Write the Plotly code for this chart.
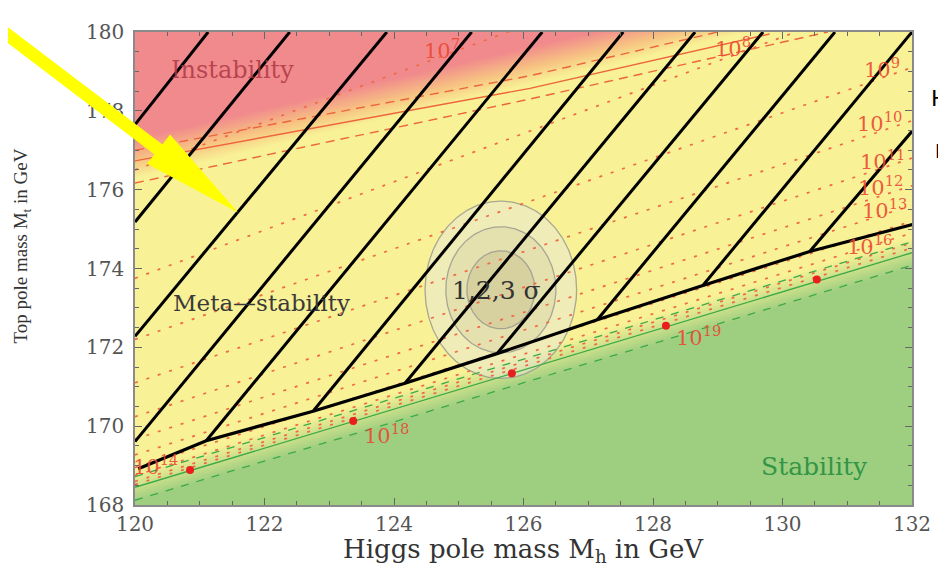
import numpy as np
import plotly.graph_objects as go

# ---------------- data ----------------
x_ticks = [120, 122, 124, 126, 128, 130, 132]
y_ticks = [168, 170, 172, 174, 176, 178, 180]

# instability boundary (orange lines)
inst_solid_h = [120.0, 126.1, 129.8]
inst_solid_t = [176.73, 178.57, 179.95]
inst_dash_up_h = [120.0, 126.1, 129.0]
inst_dash_up_t = [177.0, 178.89, 180.0]
inst_dash_lo_h = [120.0, 126.1, 130.7]
inst_dash_lo_t = [176.17, 178.30, 180.0]

# colour-grading edges of the instability band
red_full_h = [120.0, 132.0]
red_full_t = [177.3, 181.9]
red_fade_h = [120.0, 132.0]
red_fade_t = [176.3, 181.0]

# stability boundary (green lines)
stab_h = [120.0, 132.0]
stab_t = [168.45, 174.40]
stab_dash_up_t = [168.72, 174.68]
stab_dash_lo_t = [168.12, 174.08]
green_full_t = [168.10, 174.02]
green_fade_t = [168.87, 174.80]

# instability-scale contours (dotted) 10^7 ... 10^17: Mt at Mh=120 and Mh=132
scale_left_t = [176.50, 173.75, 172.20, 171.10, 170.24, 169.67, 169.27, 168.95, 168.75, 168.60, 168.52]
scale_right_t = [183.80, 181.10, 179.10, 177.75, 176.80, 176.10, 175.60, 175.20, 174.90, 174.65, 174.52]

# scale labels
lab_text = ["10<sup>7</sup>", "10<sup>8</sup>", "10<sup>9</sup>", "10<sup>10</sup>", "10<sup>11</sup>",
            "10<sup>12</sup>", "10<sup>13</sup>", "10<sup>16</sup>", "10<sup>18</sup>", "10<sup>19</sup>",
            "10<sup>14</sup>"]
lab_h = [124.74, 129.24, 131.54, 131.50, 131.55, 131.52, 131.57, 131.34, 123.88, 128.71, 120.32]
lab_t = [179.58, 179.63, 179.08, 177.72, 176.76, 176.10, 175.52, 174.60, 169.80, 172.30, 169.02]

# hand-drawn black hatching lines (start, end)
hatch_h0 = [121.13, 122.39, 123.89, 125.20, 126.29, 127.54, 128.65, 129.70, 130.81, 132.00, 132.00]
hatch_t0 = [180.00, 180.00, 180.00, 180.00, 180.00, 180.00, 180.00, 180.00, 180.00, 180.00, 177.48]
hatch_h1 = [120.00, 120.00, 120.00, 120.00, 121.10, 122.75, 124.17, 125.59, 127.14, 128.77, 130.42]
hatch_t1 = [177.65, 175.18, 172.28, 169.61, 169.63, 170.38, 171.09, 171.84, 172.70, 173.57, 174.43]

# thick black boundary
bound_h = [120.05, 121.10, 122.75, 124.17, 125.59, 127.14, 128.77, 130.42, 132.09]
bound_t = [168.92, 169.63, 170.38, 171.09, 171.84, 172.70, 173.57, 174.43, 175.15]

# red dots
dot_h = [120.85, 123.37, 125.82, 128.20, 130.53]
dot_t = [168.89, 170.13, 171.34, 172.55, 173.72]

# experimental ellipses (3,2,1 sigma)
ell_center = (125.65, 173.46)
ell_semi_h = [1.17, 0.85, 0.525]
ell_semi_t = [2.25, 1.60, 0.99]

# ---------------- figure ----------------
OFF = 8                      # page body margin of the browser
PAGE_W, PAGE_H = 946, 574
L, R, T, B = 135, 34, 20, 69  # plot area position on the page
W, H = PAGE_W - OFF, PAGE_H - OFF
PW, PH = PAGE_W - L - R, PAGE_H - T - B

fig = go.Figure()

# background colour grading
gx = np.linspace(120, 132, 301)
gy = np.linspace(168, 180, 301)
X, Y = np.meshgrid(gx, gy)
rf = np.interp(X, red_full_h, red_full_t)
ry = np.interp(X, red_fade_h, red_fade_t)
r = np.clip((Y - ry) / (rf - ry), 0, 1)
gf = np.interp(X, stab_h, green_full_t)
gyl = np.interp(X, stab_h, green_fade_t)
g = np.clip((gyl - Y) / (gyl - gf), 0, 1)
Z = 0.5 + 0.5 * r - 0.5 * g
fig.add_trace(go.Heatmap(
    x=gx, y=gy, z=Z, zmin=0, zmax=1, showscale=False, hoverinfo="skip", zsmooth="best",
    colorscale=[[0, "rgb(158,206,128)"], [0.5, "rgb(248,241,150)"],
                [0.72, "rgb(247,196,130)"], [1, "rgb(241,138,140)"]]))

# ellipses
tt = np.linspace(0, 2 * np.pi, 200)
ell_fill = ["rgba(232,232,215,0.50)", "rgba(195,190,150,0.25)", "rgba(180,170,120,0.28)"]
for a, b, fc in zip(ell_semi_h, ell_semi_t, ell_fill):
    fig.add_trace(go.Scatter(x=ell_center[0] + a * np.cos(tt), y=ell_center[1] + b * np.sin(tt),
                             mode="lines", fill="toself", fillcolor=fc,
                             line=dict(color="rgba(150,150,140,0.8)", width=1.3),
                             hoverinfo="skip", showlegend=False))

# dotted instability-scale contours
for tl, tr in zip(scale_left_t, scale_right_t):
    fig.add_trace(go.Scatter(x=[120, 132], y=[tl, tr], mode="lines",
                             line=dict(color="rgb(240,105,70)", width=1.7, dash="3px,9px"),
                             hoverinfo="skip", showlegend=False))

# instability boundary lines
fig.add_trace(go.Scatter(x=inst_solid_h, y=inst_solid_t, mode="lines",
                         line=dict(color="rgb(238,100,60)", width=1.4), showlegend=False, hoverinfo="skip"))
for hh, tv in [(inst_dash_up_h, inst_dash_up_t), (inst_dash_lo_h, inst_dash_lo_t)]:
    fig.add_trace(go.Scatter(x=hh, y=tv, mode="lines",
                             line=dict(color="rgb(238,100,60)", width=1.4, dash="9px,6px"),
                             showlegend=False, hoverinfo="skip"))

# stability boundary lines
fig.add_trace(go.Scatter(x=stab_h, y=stab_t, mode="lines",
                         line=dict(color="rgb(60,170,70)", width=1.3), showlegend=False, hoverinfo="skip"))
for tv in [stab_dash_up_t, stab_dash_lo_t]:
    fig.add_trace(go.Scatter(x=stab_h, y=tv, mode="lines",
                             line=dict(color="rgb(60,170,70)", width=1.3, dash="8px,8px"),
                             showlegend=False, hoverinfo="skip"))

# black hatching
for h0, t0, h1, t1 in zip(hatch_h0, hatch_t0, hatch_h1, hatch_t1):
    fig.add_trace(go.Scatter(x=[h0, h1], y=[t0, t1], mode="lines",
                             line=dict(color="black", width=3), showlegend=False, hoverinfo="skip"))
fig.add_trace(go.Scatter(x=bound_h, y=bound_t, mode="lines",
                         line=dict(color="black", width=3.2), showlegend=False, hoverinfo="skip"))

# red dots
fig.add_trace(go.Scatter(x=dot_h, y=dot_t, mode="markers",
                         marker=dict(color="rgb(235,30,30)", size=8), showlegend=False, hoverinfo="skip"))


def P(px, py):
    """page pixel -> paper coordinates"""
    return (px - L) / PW, (T + PH - py) / PH


serif = "DejaVu Serif"
mid = dict(xanchor="center", yanchor="middle")
ann = []
for txt, hx, ty in zip(lab_text, lab_h, lab_t):
    ann.append(dict(x=hx, y=ty, xref="x", yref="y", text=txt, showarrow=False,
                    font=dict(family=serif, size=21, color="rgba(235,70,50,0.9)"), **mid))
xt = P(523, 552)
yt = P(22, 240)
hpos = P(929, 88)
rpos = P(933, 142)
ann += [
    dict(x=121.51, y=179.04, xref="x", yref="y", text="Instability", showarrow=False,
         font=dict(family=serif, size=24, color="rgba(175,55,70,0.85)"), **mid),
    dict(x=121.96, y=173.12, xref="x", yref="y", text="Meta\u2014stability", showarrow=False,
         font=dict(family=serif, size=23, color="#3a3a3a"), **mid),
    dict(x=130.50, y=168.98, xref="x", yref="y", text="Stability", showarrow=False,
         font=dict(family=serif, size=25, color="rgb(50,150,70)"), **mid),
    dict(x=125.59, y=173.45, xref="x", yref="y", text="1,2,3 \u03c3", showarrow=False,
         font=dict(family=serif, size=25, color="#333333"), **mid),
    dict(x=xt[0], y=xt[1], xref="paper", yref="paper",
         text="Higgs pole mass M<sub>h</sub> in GeV", showarrow=False,
         font=dict(family=serif, size=26, color="#333333"), **mid),
    dict(x=yt[0], y=yt[1], xref="paper", yref="paper", textangle=-90,
         text="Top pole mass M<sub>t</sub> in GeV", showarrow=False,
         font=dict(family="Liberation Serif", size=19, color="#333333"), **mid),
    dict(x=hpos[0], y=hpos[1], xref="paper", yref="paper", xanchor="left", yanchor="middle",
         text="H", showarrow=False, font=dict(family="DejaVu Sans", size=22, color="black")),
    dict(x=rpos[0], y=rpos[1], xref="paper", yref="paper", xanchor="left", yanchor="middle",
         text="R", showarrow=False, font=dict(family="DejaVu Sans", size=19, color="black")),
]

arrow_px = [(-6, 4.1), (162.5, 135.4), (170, 125), (238, 205), (147, 155), (154.5, 145.6), (-14, 14.3)]
path = "M " + " L ".join("%.5f,%.5f" % P(*p) for p in arrow_px) + " Z"
shapes = [dict(type="path", xref="paper", yref="paper", path=path, fillcolor="#ffff00",
               line=dict(width=0), layer="above")]

axis_common = dict(showgrid=False, zeroline=False, showline=True, linecolor="#8a8a8a", linewidth=1.5,
                   mirror="ticks", ticks="inside", ticklen=7, tickwidth=1.3, tickcolor="#666",
                   tickfont=dict(family=serif, size=20, color="#555555"),
                   minor=dict(ticks="inside", ticklen=4, dtick=0.5, tickcolor="#666", tickwidth=1.2))
fig.update_xaxes(range=[120, 132], tickvals=x_ticks, **axis_common)
fig.update_yaxes(range=[168, 180], tickvals=y_ticks, ticklabelstandoff=5, **axis_common)

fig.update_layout(width=W, height=H, margin=dict(l=L - OFF, r=R, t=T - OFF, b=B),
                  paper_bgcolor="white", plot_bgcolor="white", showlegend=False,
                  annotations=ann, shapes=shapes)
fig.write_html("out.html")
